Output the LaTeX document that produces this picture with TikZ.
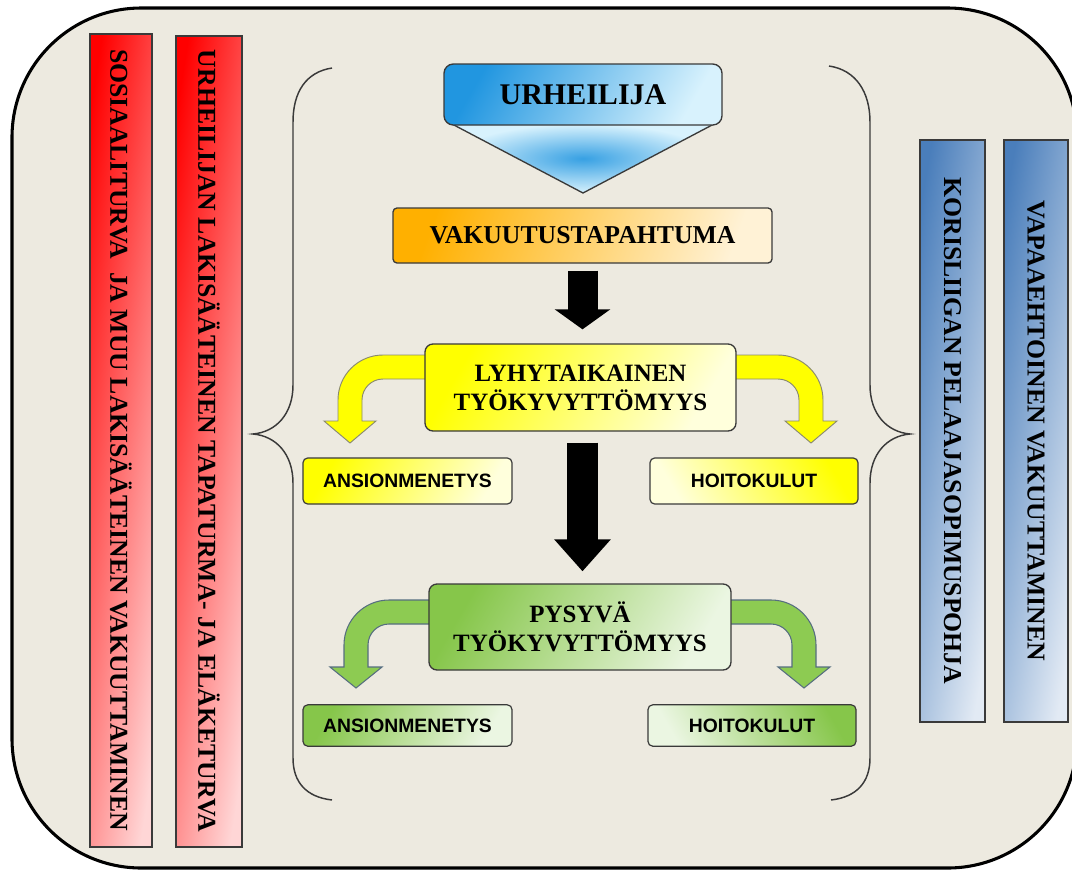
\documentclass[tikz,border=0pt]{standalone}
\usepackage{fontspec}
\setmainfont{Liberation Serif}
\newfontfamily\boxsans{Liberation Sans}
\usetikzlibrary{arrows.meta,calc}
\definecolor{bgc}{HTML}{EDEAE0}
\definecolor{edge}{HTML}{3A3A3A}
\definecolor{redA}{HTML}{FF0000}
\definecolor{redB}{HTML}{FFD6D6}
\definecolor{bluA}{HTML}{4A7EBB}
\definecolor{bluB}{HTML}{E2EAF4}
\definecolor{skyA}{HTML}{2196E0}
\definecolor{skyB}{HTML}{D8F2FD}
\definecolor{orA}{HTML}{FFB000}
\definecolor{orB}{HTML}{FFF2D6}
\definecolor{yeA}{HTML}{FFFF00}
\definecolor{yeB}{HTML}{FFFFDC}
\definecolor{grA}{HTML}{86C64A}
\definecolor{grB}{HTML}{EBF6E2}
\definecolor{grFill}{HTML}{8DCB52}
\definecolor{grEdge}{HTML}{566E80}
\definecolor{yeEdge}{HTML}{8A8A70}
\tikzset{
  bartxt/.style={font=\fontsize{19.3}{23}\selectfont\bfseries, inner sep=0pt, rotate=-90},
  mainbox/.style={draw=edge, line width=1pt, rounded corners=6pt, align=center,
    font=\fontsize{18.7}{21.75}\selectfont\bfseries, inner sep=0pt, shading angle=60},
  smallbox/.style={draw=edge, line width=0.9pt, rounded corners=3.5pt,
    font=\boxsans\fontsize{14.5}{17}\selectfont\bfseries, inner sep=0pt},
  brace/.style={draw=edge, line width=1.1pt},
  blkarrow/.style={line width=#1, black},
  bentyellow/.style={fill=yeA, draw=yeEdge, line width=0.7pt},
  bentgreen/.style={fill=grFill, draw=grEdge, line width=0.8pt}
}
\begin{document}
\begin{tikzpicture}[x=0.75pt,y=-0.75pt]
\useasboundingbox (0,0) rectangle (1072,872);
\clip (0,0) rectangle (1072,872);
\fill[white] (0,0) rectangle (1072,872);
% outer frame
\draw[line width=2.3pt, fill=bgc, rounded corners=97pt] (12,8) rectangle (1077,868);

% red bars
\shade[left color=redA, right color=redB, shading angle=81, draw=edge, line width=0.9pt] (90,34) rectangle (152,847);
\shade[left color=redA, right color=redB, shading angle=81, draw=edge, line width=0.9pt] (176,36) rectangle (242,847);
\node[bartxt] (r1) at (121,440) {SOSIAALITURVA\ \ JA MUU LAKISÄÄTEINEN VAKUUTTAMINEN};
\node[bartxt] (r2) at (209,441) {URHEILIJAN LAKISÄÄTEINEN TAPATURMA- JA ELÄKETURVA};

% blue bars
\shade[left color=bluA, right color=bluB, shading angle=80, draw=edge, line width=0.9pt] (920,140) rectangle (985,722);
\shade[left color=bluA, right color=bluB, shading angle=80, draw=edge, line width=0.9pt] (1004,140) rectangle (1068,722);
\node[bartxt] (b1) at (952.5,431) {KORISLIIGAN PELAAJASOPIMUSPOHJA};
\node[bartxt] (b2) at (1036,431) {VAPAAEHTOINEN VAKUUTTAMINEN};

% braces
\draw[brace] (332,68) .. controls (306,72) and (293,92) .. (293,122) -- (293,385)
  .. controls (293,414) and (276,432) .. (253,434)
  .. controls (276,436) and (293,454) .. (293,483) -- (293,758)
  .. controls (293,782) and (306,797) .. (332,800);
\draw[brace] (829,66) .. controls (856,70) and (870,92) .. (870,122) -- (870,385)
  .. controls (870,414) and (887,432) .. (910,434)
  .. controls (887,436) and (870,454) .. (870,483) -- (870,758)
  .. controls (870,782) and (857,797) .. (831,800);

% URHEILIJA shape
\shade[inner color=skyA!90, outer color=skyB, draw=edge, line width=1pt]
  (452,124) -- (714,124) -- (583,193) -- cycle;
\node[draw=edge, line width=1pt, rounded corners=7pt, left color=skyA, right color=skyB,
  shading angle=60, minimum width=208.5pt, minimum height=45.75pt, inner sep=0pt,
  font=\fontsize{22.5}{26}\selectfont\bfseries] (urh) at (583,94.5) {URHEILIJA};

% bent yellow arrows
\path[bentyellow] (428,355) -- (383,355) arc[start angle=270, end angle=180, radius=45]
  -- (338,421) -- (324,421) -- (350,443) -- (376,421) -- (362,421) -- (362,400)
  arc[start angle=180, end angle=270, radius=21] -- (428,379) -- cycle;
\path[bentyellow] (733,355) -- (778,355) arc[start angle=270, end angle=360, radius=45]
  -- (823,421) -- (837,421) -- (811,443) -- (785,421) -- (799,421) -- (799,400)
  arc[start angle=0, end angle=-90, radius=21] -- (733,379) -- cycle;

% bent green arrows
\path[bentgreen] (432,600) -- (389,600) arc[start angle=270, end angle=180, radius=45]
  -- (344,667) -- (330,667) -- (356,688) -- (382,667) -- (368,667) -- (368,645)
  arc[start angle=180, end angle=270, radius=21] -- (432,624) -- cycle;
\path[bentgreen] (728,600) -- (771,600) arc[start angle=270, end angle=360, radius=45]
  -- (816,667) -- (830,667) -- (804,688) -- (778,667) -- (792,667) -- (792,645)
  arc[start angle=0, end angle=-90, radius=21] -- (728,624) -- cycle;

% boxes
\node[draw=edge, line width=1pt, rounded corners=3pt, left color=orA, right color=orB,
  shading angle=70, minimum width=284.25pt, minimum height=41.25pt, inner sep=0pt,
  font=\fontsize{19.3}{23}\selectfont\bfseries] (vak) at (582.5,235.5) {VAKUUTUSTAPAHTUMA};

\node[mainbox, left color=yeA, right color=yeB, shading angle=60,
  minimum width=233.25pt, minimum height=65.25pt] (lyh) at (580.5,387.5)
  {LYHYTAIKAINEN\\TYÖKYVYTTÖMYYS};
\node[smallbox, left color=yeA, right color=yeB, shading angle=60,
  minimum width=156.75pt, minimum height=34.5pt] (ans1) at (407.5,481) {ANSIONMENETYS};
\node[smallbox, left color=yeB, right color=yeA, shading angle=120,
  minimum width=156pt, minimum height=34.5pt] (hoi1) at (754,481) {HOITOKULUT};

\node[mainbox, left color=grA, right color=grB, shading angle=60,
  minimum width=226.5pt, minimum height=64.5pt] (pys) at (580,627)
  {PYSYVÄ\\TYÖKYVYTTÖMYYS};
\node[smallbox, left color=grA, right color=grB, shading angle=60,
  minimum width=156.75pt, minimum height=31pt] (ans2) at (407.5,725.5) {ANSIONMENETYS};
\node[smallbox, left color=grB, right color=grA, shading angle=120,
  minimum width=156pt, minimum height=31pt] (hoi2) at (752,725.5) {HOITOKULUT};

% black arrows
\draw[blkarrow=22.5pt, -{Triangle[width=41pt,length=15pt]}]
  ($(vak.south)+(0,7)$) -- ($(vak.south |- lyh.north)+(0,-14)$);
\draw[blkarrow=23pt, -{Triangle[width=41pt,length=24pt]}]
  ($(lyh.south)+(2,11)$) -- ($(lyh.south |- pys.north)+(2,-12)$);
\end{tikzpicture}
\end{document}
